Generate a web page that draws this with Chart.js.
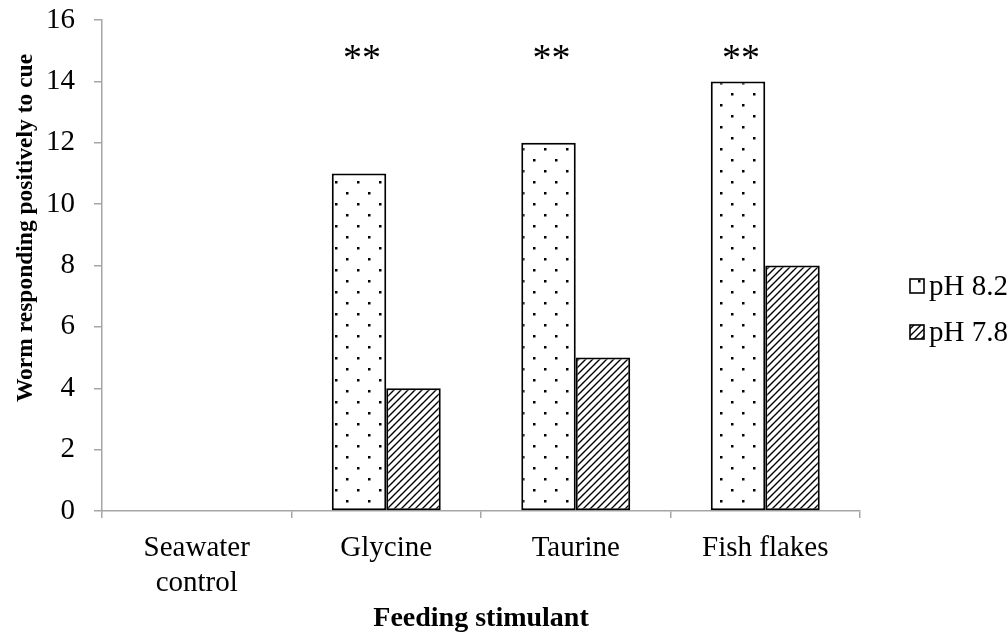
<!DOCTYPE html>
<html>
<head>
<meta charset="utf-8">
<script src="https://cdn.jsdelivr.net/npm/chart.js@4.4.1/dist/chart.umd.min.js"></script>
<style>
  html, body { margin: 0; padding: 0; background: #ffffff; }
  #wrap { width: 1008px; height: 632px; position: relative; }
</style>
</head>
<body>
<div id="wrap"><canvas id="c" width="1008" height="632"></canvas></div>
<script>
// ---- data ----
const categories = [['Seawater', 'control'], 'Glycine', 'Taurine', 'Fish flakes'];
const seriesNames = ['pH 8.2', 'pH 7.8'];
const ph82 = [0, 11, 12, 14];
const ph78 = [0, 4, 5, 8];
const significance = ['', '**', '**', '**'];
const yTicks = [0, 2, 4, 6, 8, 10, 12, 14, 16];
const xTitle = 'Feeding stimulant';
const yTitle = 'Worm responding positively to cue';

// ---- patterns ----
function dotPattern() {
  const c = document.createElement('canvas');
  c.width = 22; c.height = 22;
  const g = c.getContext('2d');
  g.fillStyle = '#ffffff'; g.fillRect(0, 0, 22, 22);
  g.fillStyle = '#000000';
  g.fillRect(5, 5, 2.5, 2.5);
  g.fillRect(16, 16, 2.5, 2.5);
  return g.createPattern(c, 'repeat');
}
function hatchPattern() {
  const s = 7;
  const c = document.createElement('canvas');
  c.width = s; c.height = s;
  const g = c.getContext('2d');
  g.fillStyle = '#ffffff'; g.fillRect(0, 0, s, s);
  g.strokeStyle = '#000000';
  g.lineWidth = 1.4;
  g.beginPath();
  g.moveTo(-1, s + 1); g.lineTo(s + 1, -1);
  g.moveTo(-1, 1); g.lineTo(1, -1);
  g.moveTo(s - 1, s + 1); g.lineTo(s + 1, s - 1);
  g.stroke();
  return g.createPattern(c, 'repeat');
}
const pDots = dotPattern();
const pHatch = hatchPattern();

const FONT = "'Liberation Serif', 'Times New Roman', serif";
const AXIS = '#a6a6a6';

const annotate = {
  id: 'annotate',
  afterDatasetsDraw(chart) {
    const ctx = chart.ctx;
    const meta = chart.getDatasetMeta(0);
    const area = chart.chartArea;
    ctx.save();
    ctx.fillStyle = '#000';
    ctx.font = "38px " + FONT;
    ctx.textAlign = 'center';
    ctx.textBaseline = 'middle';
    significance.forEach((s, i) => {
      if (!s) return;
      const el = meta.data[i];
      ctx.fillText(s, el.x + 3, 60);
    });
    // axis titles
    ctx.font = "bold 28px " + FONT;
    ctx.textBaseline = 'middle';
    ctx.fillText(xTitle, (area.left + area.right) / 2, 619);
    ctx.save();
    ctx.translate(26, 228);
    ctx.rotate(-Math.PI / 2);
    ctx.font = "bold 23.5px " + FONT;
    ctx.fillText(yTitle, 0, 0);
    ctx.restore();
    // legend
    const ds = chart.data.datasets;
    ds.forEach((d, i) => {
      const cy = 286 + i * 46;
      const x0 = 910;
      ctx.fillStyle = d.backgroundColor;
      ctx.fillRect(x0, cy - 7, 14, 14);
      ctx.strokeStyle = '#000';
      ctx.lineWidth = 1.6;
      ctx.strokeRect(x0, cy - 7, 14, 14);
      ctx.fillStyle = '#000';
      ctx.font = "29px " + FONT;
      ctx.textAlign = 'left';
      ctx.textBaseline = 'middle';
      ctx.fillText(d.label, 929, cy + 1);
    });
    ctx.restore();
  }
};

new Chart(document.getElementById('c'), {
  type: 'bar',
  data: {
    labels: categories,
    datasets: [
      { label: seriesNames[0], data: ph82, backgroundColor: pDots, borderColor: '#000', borderWidth: 2, borderSkipped: false },
      { label: seriesNames[1], data: ph78, backgroundColor: pHatch, borderColor: '#000', borderWidth: 2, borderSkipped: false }
    ]
  },
  options: {
    responsive: false,
    animation: false,
    devicePixelRatio: 1,
    layout: { padding: { left: 0, top: 20, right: 148, bottom: 0 } },
    datasets: { bar: { categoryPercentage: 0.575, barPercentage: 1.0 } },
    plugins: { legend: { display: false }, tooltip: { enabled: false } },
    scales: {
      x: {
        offset: true,
        grid: { offset: true, drawOnChartArea: false, drawTicks: true, tickLength: 7, color: AXIS, lineWidth: 1.5 },
        border: { color: AXIS, width: 1.5 },
        ticks: { color: '#000', font: { family: FONT, size: 29 }, padding: 13, maxRotation: 0, autoSkip: false },
        title: { display: false },
        afterFit(s) { s.height = 121; s.paddingLeft = 0; s.paddingRight = 0; }
      },
      y: {
        min: 0, max: 16,
        afterBuildTicks(s) { s.ticks = yTicks.map(v => ({ value: v })); },
        grid: { drawOnChartArea: false, drawTicks: true, tickLength: 8, color: AXIS, lineWidth: 1.5 },
        border: { color: AXIS, width: 1.5 },
        ticks: { color: '#000', font: { family: FONT, size: 29 }, padding: 19 },
        title: { display: false },
        afterFit(s) { s.width = 102; s.paddingTop = 0; s.paddingBottom = 0; }
      }
    }
  },
  plugins: [annotate]
});
</script>
</body>
</html>
